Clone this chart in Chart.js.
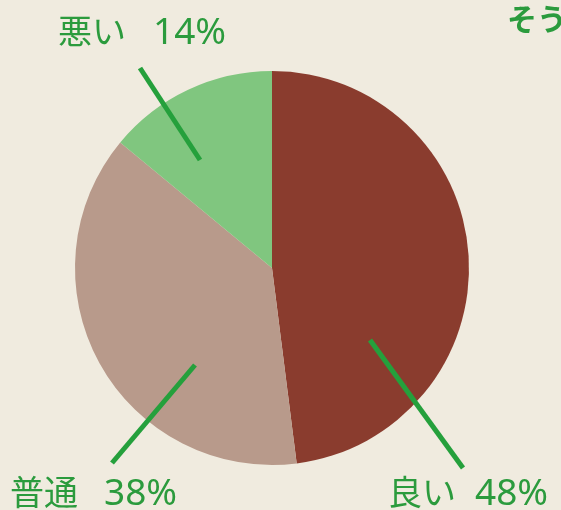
<!DOCTYPE html>
<html>
<head>
<meta charset="utf-8">
<script src="https://cdn.jsdelivr.net/npm/chart.js@4.4.0/dist/chart.umd.min.js"></script>
<style>
  html, body { margin: 0; padding: 0; background: #f0ebdf; }
  #wrap { width: 561px; height: 510px; position: relative; }
</style>
</head>
<body>
<div id="wrap"><canvas id="miGrafico" width="561" height="510"></canvas></div>
<script>
const etiquetas = ['良い', '普通', '悪い'];
const valores = [48, 38, 14];
const colores = ['#8a3c2e', '#b89a8b', '#80c67f'];

// posiciones de los textos y lineas guia (texto, porcentaje, linea desde/hasta)
const rotulos = [
    { tx: 388, px: 475, ty: 505, l1: [370, 340], l2: [463, 468] },
    { tx: 10, px: 104, ty: 505, l1: [195, 365], l2: [112, 463] },
    { tx: 58, px: 153, ty: 44, l1: [200, 160], l2: [140, 68] }
];

const pluginRotulos = {
    id: 'rotulos',
    afterDraw(chart) {
        const ctx = chart.ctx;
        const meta = chart.getDatasetMeta(0);
        ctx.save();
        ctx.strokeStyle = '#25a03c';
        ctx.lineWidth = 5;
        meta.data.forEach((arc, i) => {
            const r = rotulos[i];
            ctx.beginPath();
            ctx.moveTo(r.l1[0], r.l1[1]);
            ctx.lineTo(r.l2[0], r.l2[1]);
            ctx.stroke();
            ctx.fillStyle = '#2b9b3d';
            ctx.font = '34px "Noto Sans CJK JP", "Noto Sans", sans-serif';
            ctx.textBaseline = 'alphabetic';
            ctx.fillText(etiquetas[i], r.tx, r.ty);
            ctx.font = '37px "Noto Sans", sans-serif';
            ctx.fillText(valores[i] + '%', r.px, r.ty);
        });
        ctx.font = 'bold 30px "Noto Sans CJK JP", sans-serif';
        ctx.fillText('そう', 507, 30);
        ctx.restore();
    }
};

const grafico = new Chart(document.getElementById('miGrafico'), {
    type: 'pie',
    data: {
        labels: etiquetas,
        datasets: [{
            data: valores,
            backgroundColor: colores,
            borderWidth: 0
        }]
    },
    options: {
        responsive: false,
        animation: false,
        layout: { padding: { left: 75, right: 92, top: 71, bottom: 45 } },
        plugins: {
            legend: { display: false },
            tooltip: { enabled: false }
        }
    },
    plugins: [pluginRotulos]
});
</script>
</body>
</html>
